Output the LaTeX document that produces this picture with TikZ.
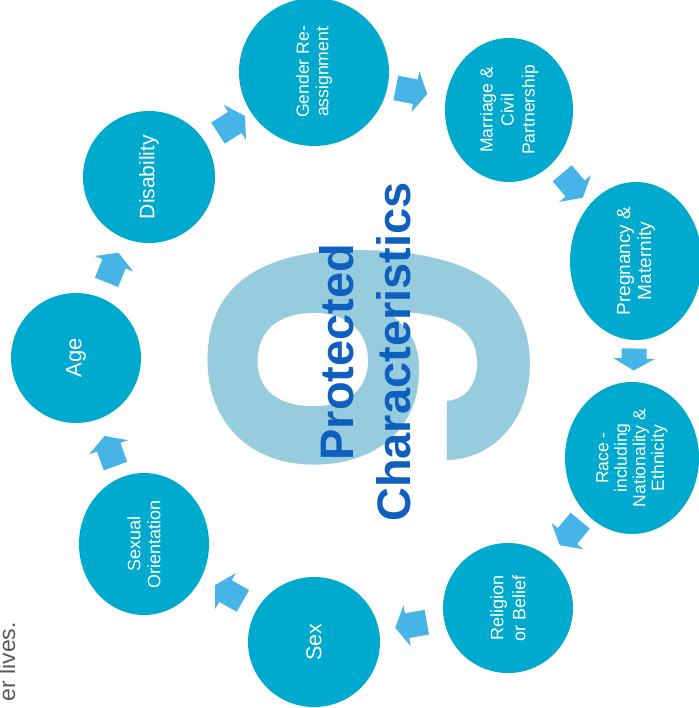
\documentclass[tikz,border=0pt]{standalone}
\usepackage{fontspec}
\setmainfont{Liberation Sans}
\newfontfamily\numeralfont{TeX Gyre Heros}
\usetikzlibrary{shapes.geometric,arrows.meta,calc}
\definecolor{ringblue}{HTML}{00AACE}
\definecolor{arrowblue}{HTML}{46B4E6}
\definecolor{ninefill}{HTML}{96CCDD}
\definecolor{titleblue}{HTML}{0F5FBE}
\definecolor{notegray}{HTML}{595959}
\newcommand\setfs[2]{\fontsize{#1}{#2}\selectfont}
\begin{document}
\begin{tikzpicture}[x=1pt,y=-1pt,
  trait/.style={ellipse, fill=ringblue, text=white, rotate=90,
    inner sep=0pt, outer sep=0pt, align=center},
  flow/.style={draw=arrowblue, line width=25pt, line cap=butt,
    -{Triangle[width=41pt, length=12pt, fill=arrowblue, color=arrowblue]}},
]
\useasboundingbox (0,0) rectangle (698,708);

% large background numeral
\node[rotate=90, inner sep=0pt, text=ninefill,
  font=\numeralfont\setfs{440}{440}\bfseries] (nine) at (369,355) {9};

% heading
\node[rotate=90, inner sep=0pt, text=titleblue, align=center,
  font=\setfs{47}{57}\bfseries] (title) at (365,352)
  {Protected\\Characteristics};

% trailing caption line
\node[rotate=90, inner sep=0pt, anchor=base east, text=notegray,
  font=\setfs{23}{27}] (note) at (15,622) {er lives.};

% the nine characteristics
\node[trait, minimum width=148pt, minimum height=150pt, font=\setfs{17.6}{19.5}]
  (gen) at (314,72) {Gender Re-\\assignment};
\node[trait, minimum width=144pt, minimum height=128pt, font=\setfs{17.5}{21}]
  (mar) at (509,110) {Marriage \&\\Civil\\Partnership};
\node[trait, minimum width=158pt, minimum height=132pt, font=\setfs{19}{21}]
  (preg) at (636,261) {Pregnancy \&\\Maternity};
\node[trait, minimum width=152pt, minimum height=134pt, font=\setfs{17.5}{18.5}]
  (race) at (632,458) {Race -\\including\\Nationality \&\\Ethnicity};
\node[trait, minimum width=130pt, minimum height=130pt, font=\setfs{18}{22}]
  (rel) at (508,608) {Religion\\or Belief};
\node[trait, minimum width=130pt, minimum height=132pt, font=\setfs{21.5}{24}]
  (sex) at (314,642) {Sex};
\node[trait, minimum width=142pt, minimum height=130pt, font=\setfs{18}{20}]
  (so) at (144,544) {Sexual\\Orientation};
\node[trait, minimum width=130pt, minimum height=130pt, font=\setfs{22}{24}]
  (age) at (76,358) {Age};
\node[trait, minimum width=132pt, minimum height=132pt, font=\setfs{21}{24}]
  (dis) at (149,177) {Disability};

% block arrows around the ring, centred between neighbouring circles
\draw[flow] ($(dis)!.5!(gen)!16pt!(dis)$) -- ($(dis)!.5!(gen)!16pt!(gen)$);
\draw[flow] ($(gen)!.5!(mar)!16pt!(gen)$) -- ($(gen)!.5!(mar)!16pt!(mar)$);
\draw[flow] ($(mar)!.5!(preg)!16pt!(mar)$) -- ($(mar)!.5!(preg)!16pt!(preg)$);
\draw[flow] ($(preg)!.5!(race)!11pt!(preg)$) -- ($(preg)!.5!(race)!11pt!(race)$);
\draw[flow] ($(race)!.5!(rel)!16pt!(race)$) -- ($(race)!.5!(rel)!16pt!(rel)$);
\draw[flow] ($(rel)!.5!(sex)!16pt!(rel)$) -- ($(rel)!.5!(sex)!16pt!(sex)$);
\draw[flow] ($(sex)!.5!(so)!16pt!(sex)$) -- ($(sex)!.5!(so)!16pt!(so)$);
\draw[flow] ($(so)!.5!(age)!16pt!(so)$) -- ($(so)!.5!(age)!16pt!(age)$);
\draw[flow] ($(age)!.5!(dis)!16pt!(age)$) -- ($(age)!.5!(dis)!16pt!(dis)$);
\end{tikzpicture}
\end{document}
